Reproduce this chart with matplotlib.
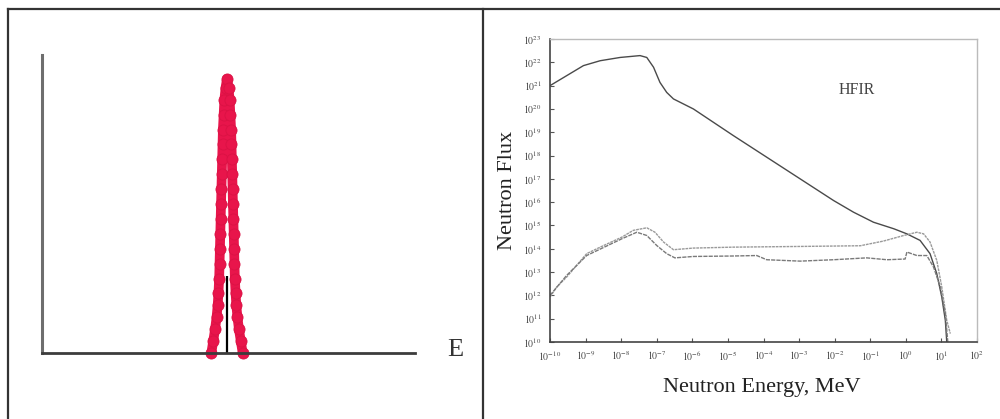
"""Figure: monoenergetic peak sketch vs HFIR neutron spectrum, 2-panel."""
from __future__ import annotations

import matplotlib
matplotlib.use("Agg")
import matplotlib.pyplot as plt
import numpy as np
from matplotlib.lines import Line2D

plt.rcParams["mathtext.fontset"] = "stix"
SERIF = ["Liberation Serif", "DejaVu Serif"]

# left panel: narrow peak (arbitrary units, x 0..10, y 0..10)
PEAK_X = [4.54, 4.59, 4.64, 4.68, 4.71, 4.73, 4.75, 4.76, 4.77, 4.78, 4.79,
          4.80, 4.81, 4.82, 4.83, 4.84, 4.85, 4.87, 4.89, 4.92, 4.96,
          5.00, 5.03, 5.05, 5.07, 5.08, 5.09, 5.10, 5.11, 5.12, 5.13,
          5.14, 5.15, 5.16, 5.17, 5.19, 5.21, 5.24, 5.28, 5.33, 5.38]
PEAK_Y = [0.0, 0.4, 0.8, 1.2, 1.6, 2.0, 2.5, 3.0, 3.5, 4.0, 4.5,
          5.0, 5.5, 6.0, 6.5, 7.0, 7.5, 8.0, 8.5, 8.9, 9.2,
          8.9, 8.5, 8.0, 7.5, 7.0, 6.5, 6.0, 5.5, 5.0, 4.5,
          4.0, 3.5, 3.0, 2.5, 2.0, 1.6, 1.2, 0.8, 0.4, 0.0]
PEAK_CENTER = 4.96

# right panel: log10(E / MeV) and log10(flux)
TOTAL_LOGE = [-10.0, -9.53, -9.06, -8.59, -8.03, -7.47, -7.28, -7.09, -6.91, -6.72,
              -6.53, -5.97, -4.85, -3.91, -2.97, -2.03, -1.47, -0.91, -0.34, 0.03,
              0.40, 0.68, 0.87, 1.01, 1.11, 1.15]
TOTAL_LOGF = [21.0, 21.43, 21.86, 22.07, 22.21, 22.29, 22.21, 21.79, 21.14, 20.71,
              20.43, 20.0, 18.86, 17.93, 17.0, 16.07, 15.57, 15.14, 14.86, 14.64,
              14.36, 13.79, 12.93, 11.93, 10.93, 10.0]

A_LOGE = [-10.0, -9.81, -9.53, -8.97, -8.59, -7.98, -7.66, -7.28, -7.05, -6.81,
          -6.53, -5.97, -4.85, -2.97, -1.28, -0.63, -0.06, 0.31, 0.50, 0.68,
          0.87, 1.01, 1.15, 1.25]
A_LOGF = [11.93, 12.36, 12.79, 13.79, 14.07, 14.5, 14.79, 14.9, 14.71, 14.29,
          13.96, 14.03, 14.07, 14.1, 14.13, 14.33, 14.57, 14.71, 14.64, 14.29,
          13.5, 12.36, 10.93, 10.36]

B_LOGE = [-10.0, -9.53, -8.97, -7.98, -7.56, -7.28, -7.0, -6.72, -6.49, -5.97,
          -4.85, -4.19, -3.91, -2.97, -2.03, -1.10, -0.53, -0.02, 0.03, 0.31,
          0.59, 0.78, 0.97, 1.11, 1.18]
B_LOGF = [12.0, 12.86, 13.71, 14.43, 14.71, 14.57, 14.14, 13.79, 13.61, 13.67,
          13.69, 13.71, 13.53, 13.47, 13.53, 13.61, 13.53, 13.56, 13.86, 13.71,
          13.71, 13.21, 12.36, 11.21, 10.0]

X_DECADES = list(range(-10, 3))
Y_DECADES = list(range(10, 24))


def frame(fig):
    kw = dict(color="#333333", lw=1.6, transform=fig.transFigure)
    top = 1 - 9 / 419
    fig.add_artist(Line2D([0.008, 0.008], [0, top], **kw))
    fig.add_artist(Line2D([0.008, 1.0], [top, top], **kw))
    fig.add_artist(Line2D([0.483, 0.483], [0, top], **kw))


def left_panel(fig):
    ax = fig.add_axes([0.042, 0.1575, 0.373, 0.711])
    ax.vlines(PEAK_CENTER, 0, 2.6, color="black", lw=1.6, zorder=1)
    ax.plot(PEAK_X, PEAK_Y, color="#E8154B", lw=7, marker="o",
            markersize=8, markeredgecolor="#DA1244", markeredgewidth=0.6,
            zorder=2, clip_on=False, solid_joinstyle="round",
            solid_capstyle="round")
    ax.set_xlim(0, 10)
    ax.set_ylim(0, 10)
    for side in ("top", "right"):
        ax.spines[side].set_visible(False)
    ax.spines["left"].set_color("#6e6e6e")
    ax.spines["left"].set_linewidth(2.2)
    ax.spines["bottom"].set_color("#3c3c3c")
    ax.spines["bottom"].set_linewidth(2.0)
    ax.set_xticks([])
    ax.set_yticks([])
    ax.patch.set_visible(False)
    fig.text(0.455, 1 - 350 / 419, "E", family=SERIF, fontsize=19,
             color="#333333", ha="center", va="center")


def right_panel(fig):
    ax = fig.add_axes([0.55, 0.1838, 0.427, 0.723])
    ax.plot(10.0 ** np.array(TOTAL_LOGE), 10.0 ** np.array(TOTAL_LOGF),
            color="#4a4a4a", lw=1.0)
    ax.plot(10.0 ** np.array(A_LOGE), 10.0 ** np.array(A_LOGF),
            color="#9a9a9a", lw=1.0, ls=(0, (2, 0.6)))
    ax.plot(10.0 ** np.array(B_LOGE), 10.0 ** np.array(B_LOGF),
            color="#7a7a7a", lw=1.0, ls=(0, (3, 0.8)))
    ax.set_xscale("log")
    ax.set_yscale("log")
    ax.set_xlim(1e-10, 1e2)
    ax.set_ylim(1e10, 1e23)
    ax.set_xticks([10.0 ** k for k in X_DECADES])
    ax.set_xticklabels([f"$10^{{{k}}}$" for k in X_DECADES])
    ax.set_yticks([10.0 ** k for k in Y_DECADES])
    ax.set_yticklabels([f"$10^{{{k}}}$" for k in Y_DECADES])
    ax.minorticks_off()
    ax.tick_params(direction="in", length=3, width=0.8, color="#555555",
                   labelsize=7, labelcolor="#444444")
    ax.tick_params(axis="y", pad=6)
    ax.tick_params(axis="x", pad=5)
    for side in ("left", "bottom"):
        ax.spines[side].set_color("#444444")
        ax.spines[side].set_linewidth(1.2)
    for side in ("top", "right"):
        ax.spines[side].set_color("#bbbbbb")
        ax.spines[side].set_linewidth(1.0)
    ax.set_xlabel("Neutron Energy, MeV", family=SERIF, fontsize=16,
                  color="#222222")
    ax.xaxis.set_label_coords(0.497, -0.119)
    ax.set_ylabel("Neutron Flux", family=SERIF, fontsize=16, color="#222222")
    ax.yaxis.set_label_coords(-0.077, 0.5)
    ax.text(0.719, 0.832, "HFIR", transform=ax.transAxes, family=SERIF,
            fontsize=11.5, color="#444444", ha="center", va="center")


def main():
    fig = plt.figure(figsize=(10, 4.19), dpi=100)
    frame(fig)
    left_panel(fig)
    right_panel(fig)
    fig.savefig("out.png", dpi=100)


if __name__ == "__main__":
    main()
